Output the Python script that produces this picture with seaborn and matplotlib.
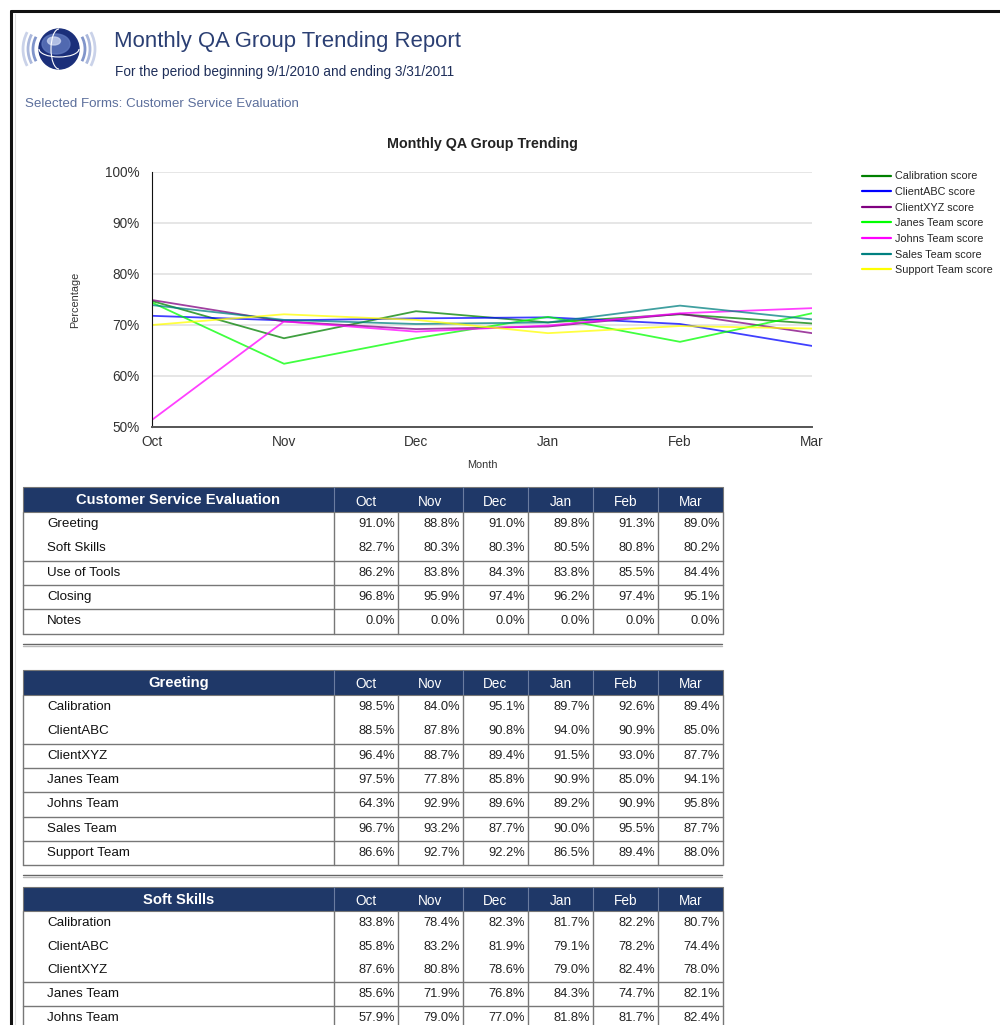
#=====IMPORT LIBRARIES=====
import matplotlib
matplotlib.use('Agg')
import matplotlib.pyplot as plt
from matplotlib.patches import Rectangle, Circle, Arc, Ellipse
from matplotlib.ticker import FuncFormatter
import pandas as pd
import seaborn as sns

#=====DATA=====
months = ["Oct", "Nov", "Dec", "Jan", "Feb", "Mar"]
series_names = ["Calibration score", "ClientABC score", "ClientXYZ score", "Janes Team score",
                "Johns Team score", "Sales Team score", "Support Team score"]
calibration = [74.7, 67.4, 72.7, 70.5, 72.1, 70.3]
client_abc = [71.8, 70.9, 71.3, 71.5, 70.2, 65.9]
client_xyz = [74.9, 70.7, 69.2, 69.7, 72.2, 68.4]
janes_team = [74.4, 62.4, 67.4, 71.6, 66.7, 72.3]
johns_team = [51.4, 70.7, 68.7, 69.9, 72.3, 73.3]
sales_team = [73.9, 71.0, 70.2, 70.5, 73.8, 71.1]
support_team = [70.0, 72.1, 71.0, 68.4, 69.8, 69.3]
series_colors = ["#008000", "#0000FF", "#800080", "#00FF00", "#FF00FF", "#008080", "#FFFF00"]

cse_rows = ["Greeting", "Soft Skills", "Use of Tools", "Closing", "Notes"]
cse_values = [
    ["91.0%", "88.8%", "91.0%", "89.8%", "91.3%", "89.0%"],
    ["82.7%", "80.3%", "80.3%", "80.5%", "80.8%", "80.2%"],
    ["86.2%", "83.8%", "84.3%", "83.8%", "85.5%", "84.4%"],
    ["96.8%", "95.9%", "97.4%", "96.2%", "97.4%", "95.1%"],
    ["0.0%", "0.0%", "0.0%", "0.0%", "0.0%", "0.0%"],
]
greeting_rows = ["Calibration", "ClientABC", "ClientXYZ", "Janes Team", "Johns Team", "Sales Team", "Support Team"]
greeting_values = [
    ["98.5%", "84.0%", "95.1%", "89.7%", "92.6%", "89.4%"],
    ["88.5%", "87.8%", "90.8%", "94.0%", "90.9%", "85.0%"],
    ["96.4%", "88.7%", "89.4%", "91.5%", "93.0%", "87.7%"],
    ["97.5%", "77.8%", "85.8%", "90.9%", "85.0%", "94.1%"],
    ["64.3%", "92.9%", "89.6%", "89.2%", "90.9%", "95.8%"],
    ["96.7%", "93.2%", "87.7%", "90.0%", "95.5%", "87.7%"],
    ["86.6%", "92.7%", "92.2%", "86.5%", "89.4%", "88.0%"],
]
soft_rows = ["Calibration", "ClientABC", "ClientXYZ", "Janes Team", "Johns Team"]
soft_values = [
    ["83.8%", "78.4%", "82.3%", "81.7%", "82.2%", "80.7%"],
    ["85.8%", "83.2%", "81.9%", "79.1%", "78.2%", "74.4%"],
    ["87.6%", "80.8%", "78.6%", "79.0%", "82.4%", "78.0%"],
    ["85.6%", "71.9%", "76.8%", "84.3%", "74.7%", "82.1%"],
    ["57.9%", "79.0%", "77.0%", "81.8%", "81.7%", "82.4%"],
]

#=====STYLE=====
sns.set_style("white")
plt.rcParams['font.family'] = ['Liberation Sans', 'DejaVu Sans']
NAVY = "#1F3868"
W, H = 1000, 1025

fig = plt.figure(figsize=(10, 10.25), dpi=100)
page = fig.add_axes([0, 0, 1, 1])
page.set_xlim(0, W)
page.set_ylim(H, 0)
page.axis('off')

#=====FRAME=====
page.plot([11, W], [11, 11], color="#111111", lw=2.2)
page.plot([11, 11], [11, H], color="#111111", lw=2.2)
page.plot([15, 15], [14, H], color="#DDDDDD", lw=0.8)

#=====LOGO=====
cx, cy = 59, 49
for r, a in [(26, 0.6), (31, 0.4), (36, 0.25)]:
    page.add_patch(Arc((cx, cy), 2 * r, 2 * r, theta1=152, theta2=208, color="#2D4FA8", lw=2, alpha=a))
    page.add_patch(Arc((cx, cy), 2 * r, 2 * r, theta1=-28, theta2=28, color="#2D4FA8", lw=2, alpha=a))
page.add_patch(Circle((cx, cy), 20, color="#1B2F7A"))
page.add_patch(Ellipse((cx - 3, cy - 5), 28, 20, color="#5F78BE", alpha=0.8))
page.add_patch(Ellipse((cx - 5, cy - 8), 13, 8, color="#C9D4F0", alpha=0.8))
page.add_patch(Arc((cx, cy), 40, 16, theta1=0, theta2=180, color="white", lw=0.8))
page.add_patch(Arc((cx, cy), 16, 40, theta1=90, theta2=270, color="white", lw=0.8))

#=====HEADER TEXT=====
page.text(114, 42, "Monthly QA Group Trending Report", fontsize=15.9, color="#2B3F73", va='center', ha='left')
page.text(115, 72, "For the period beginning 9/1/2010 and ending 3/31/2011", fontsize=9.8, color="#1F2F5A",
          va='center', ha='left')
page.text(25, 104, "Selected Forms: Customer Service Evaluation", fontsize=9.6, color="#5C6F9C",
          va='center', ha='left')

#=====LINE CHART=====
long_rows = []
for name, vals in zip(series_names, [calibration, client_abc, client_xyz, janes_team,
                                     johns_team, sales_team, support_team]):
    for m, v in zip(months, vals):
        long_rows.append({"Month": m, "Score": v, "Series": name})
df = pd.DataFrame(long_rows)

ax = fig.add_axes([152 / W, 1 - 427 / H, 660 / W, 255 / H])
sns.lineplot(data=df, x="Month", y="Score", hue="Series", hue_order=series_names,
             palette=dict(zip(series_names, series_colors)), sort=False, lw=1.3, alpha=0.75, ax=ax)
ax.set_xlim(0, 5)
ax.set_ylim(50, 100)
ax.set_yticks([50, 60, 70, 80, 90, 100])
ax.yaxis.set_major_formatter(FuncFormatter(lambda v, p: f"{v:.0f}%"))
ax.set_xticks(range(len(months)))
ax.set_xticklabels(months)
ax.grid(axis='y', color="#E4E4E4", lw=1.3)
ax.set_axisbelow(True)
for s in ["top", "right"]:
    ax.spines[s].set_visible(False)
ax.spines["left"].set_color("#111111")
ax.spines["bottom"].set_color("#555555")
ax.spines["bottom"].set_linewidth(1.4)
ax.tick_params(axis='y', length=7, width=1, color="#555555", labelsize=9.8, labelcolor="#333333", pad=2)
ax.tick_params(axis='x', length=4, width=1, color="#555555", labelsize=9.8, labelcolor="#333333", pad=2)
ax.set_xlabel("Month", fontsize=7.8, color="#333333", labelpad=8)
ax.set_ylabel("Percentage", fontsize=7.8, color="#333333", labelpad=18)
ax.set_title("Monthly QA Group Trending", fontsize=10.3, fontweight='bold', color="#222222", pad=17)
ax.legend(loc='upper left', bbox_to_anchor=(858 / W, 1 - 167 / H), bbox_transform=fig.transFigure,
          frameon=False, fontsize=7.8, handlelength=2.6, handletextpad=0.45, labelspacing=0.52,
          borderaxespad=0)
for line in ax.get_legend().get_lines():
    line.set_linewidth(1.6)
    line.set_alpha(1)

#=====TABLES=====
col_edges = [23, 334, 398, 463, 528, 593, 658, 723]


def draw_table(top, title, rows, values, row_lines, row_h=24.3, head_h=25):
    page.add_patch(Rectangle((col_edges[0], top), col_edges[-1] - col_edges[0], head_h,
                             facecolor=NAVY, edgecolor="#777777", lw=0.8))
    page.text((col_edges[0] + col_edges[1]) / 2, top + head_h / 2 + 1, title, color="white",
              fontsize=10.6, fontweight='bold', ha='center', va='center')
    for i, m in enumerate(months):
        x0, x1 = col_edges[i + 1], col_edges[i + 2]
        page.text((x0 + x1) / 2, top + head_h / 2 + 2, m, color="white", fontsize=9.8, ha='center', va='center')
        if i > 1:
            page.plot([x0, x0], [top, top + head_h], color="#6A7CA0", lw=0.8)
    page.plot([col_edges[1], col_edges[1]], [top, top + head_h], color="#6A7CA0", lw=0.8)
    y0 = top + head_h
    bottom = min(y0 + row_h * len(rows), H)
    for x in col_edges:
        page.plot([x, x], [y0, bottom], color="#777777", lw=1)
    for r, (label, vals) in enumerate(zip(rows, values)):
        yc = y0 + row_h * r + row_h / 2
        page.text(47, yc, label, fontsize=9.6, color="#111111", ha='left', va='center')
        for i, v in enumerate(vals):
            page.text(col_edges[i + 2] - 3, yc, v, fontsize=9.3, color="#222222", ha='right', va='center')
        if r in row_lines:
            yb = y0 + row_h * (r + 1)
            page.plot([col_edges[0], col_edges[-1]], [yb, yb], color="#777777", lw=1)


draw_table(487, "Customer Service Evaluation", cse_rows, cse_values, [1, 2, 3, 4])
page.plot([23, 722], [644, 644], color="#666666", lw=1)
page.plot([23, 722], [646, 646], color="#BBBBBB", lw=1)
draw_table(670, "Greeting", greeting_rows, greeting_values, [1, 2, 3, 4, 5, 6])
page.plot([23, 722], [875, 875], color="#666666", lw=1)
page.plot([23, 722], [877, 877], color="#BBBBBB", lw=1)
draw_table(887, "Soft Skills", soft_rows, soft_values, [2, 3], row_h=23.7, head_h=24)

fig.savefig("out.png", dpi=100)
